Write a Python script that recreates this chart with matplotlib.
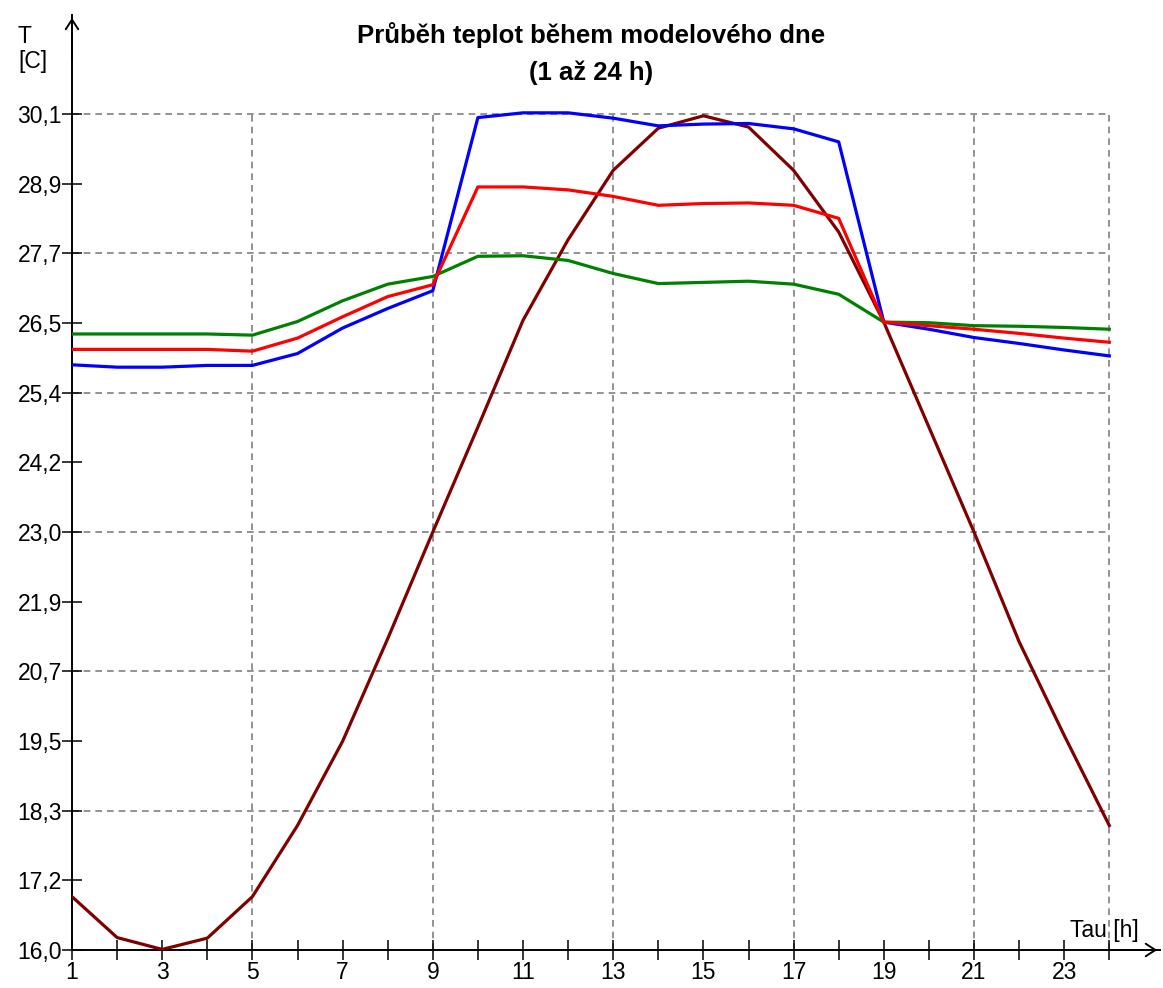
import matplotlib
matplotlib.use("Agg")
import matplotlib.pyplot as plt

# hodiny modeloveho dne
hours = list(range(1, 25))

# teploty [C]
t_blue = [25.87, 25.83, 25.83, 25.86, 25.86, 26.06, 26.49, 26.82, 27.12, 30.04,
          30.12, 30.12, 30.03, 29.90, 29.93, 29.94, 29.85, 29.63, 26.59, 26.47,
          26.33, 26.23, 26.12, 26.02]
t_red = [26.13, 26.13, 26.13, 26.13, 26.10, 26.32, 26.68, 27.02, 27.22, 28.87,
         28.87, 28.82, 28.71, 28.56, 28.59, 28.60, 28.56, 28.34, 26.59, 26.53,
         26.47, 26.40, 26.32, 26.25]
t_green = [26.39, 26.39, 26.39, 26.39, 26.37, 26.60, 26.95, 27.23, 27.36, 27.70,
           27.71, 27.63, 27.41, 27.24, 27.26, 27.28, 27.23, 27.06, 26.59, 26.58,
           26.53, 26.52, 26.50, 26.47]
t_out = [16.90, 16.21, 16.01, 16.20, 16.90, 18.10, 19.52, 21.25, 23.05, 24.82,
         26.62, 27.98, 29.15, 29.86, 30.07, 29.88, 29.15, 28.11, 26.59, 24.82,
         23.05, 21.20, 19.62, 18.10]

y_ticks = [16.0, 17.175, 18.35, 19.525, 20.7, 21.875, 23.05, 24.225, 25.4,
           26.575, 27.75, 28.925, 30.1]
y_tick_labels = ["16,0", "17,2", "18,3", "19,5", "20,7", "21,9", "23,0", "24,2",
                 "25,4", "26,5", "27,7", "28,9", "30,1"]
x_tick_labels = [str(h) if h % 2 == 1 and h < 24 else "" for h in hours]

FONT = "Liberation Sans"
W, H = 1163, 988

fig = plt.figure(figsize=(W / 100, H / 100), dpi=100)
# plocha grafu: osa x od px 72 do 1160, osa y od px 950 nahoru do 15
ax = fig.add_axes([72 / W, 1 - 950 / H, 1088 / W, 935 / H])
ax.set_xlim(1, 1 + 1088 / 45.1)
ax.set_ylim(16.0, 16.0 + 935 / 59.29)

# mrizka - carkovana, jen po 4 h a kazdy druhy tick
grid_kw = dict(color="#808080", lw=1.2, linestyle=(0, (4.0, 3.0)), zorder=1)
x_grid = hours[4::4] + [hours[-1]]
ax.vlines(x_grid, y_ticks[0], y_ticks[-1], **grid_kw)
ax.hlines(y_ticks[2::2], hours[0], hours[-1], **grid_kw)

lw = 2.3
ax.plot(hours, t_out, color="#800000", lw=lw, zorder=3)
ax.plot(hours, t_blue, color="#0000ff", lw=lw, zorder=3)
ax.plot(hours, t_green, color="#008000", lw=lw, zorder=3)
ax.plot(hours, t_red, color="#ff0000", lw=lw, zorder=3)

for s in ["top", "right"]:
    ax.spines[s].set_visible(False)
for s in ["left", "bottom"]:
    ax.spines[s].set_linewidth(1.4)
    ax.spines[s].set_color("black")

# sipky na koncich os
arr = dict(arrowstyle="->,head_length=0.7,head_width=0.45", color="black", lw=1.4)
ax.annotate("", xy=(1.0, 0), xytext=(0.95, 0), xycoords="axes fraction",
            arrowprops=arr, annotation_clip=False)
ax.annotate("", xy=(0, 1.0), xytext=(0, 0.95), xycoords="axes fraction",
            arrowprops=arr, annotation_clip=False)

ax.set_xticks(hours)
ax.set_xticklabels(x_tick_labels, fontfamily=FONT, fontsize=16.5)
ax.set_yticks(y_ticks)
ax.set_yticklabels(y_tick_labels, fontfamily=FONT, fontsize=16.5)
ax.tick_params(axis="both", direction="inout", length=14.5, width=1.1, colors="black")
ax.tick_params(axis="x", pad=1.0)
ax.tick_params(axis="y", pad=0.0)

fig.text(591 / W, 1 - 43 / H, "Průběh teplot během modelového dne", ha="center",
         va="baseline", fontfamily=FONT, fontweight="bold", fontsize=18.5)
fig.text(591 / W, 1 - 80 / H, "(1 až 24 h)", ha="center", va="baseline",
         fontfamily=FONT, fontweight="bold", fontsize=18.5)

fig.text(18 / W, 1 - 43 / H, "T", ha="left", va="baseline", fontfamily=FONT, fontsize=16.5)
fig.text(18 / W, 1 - 68 / H, "[C]", ha="left", va="baseline", fontfamily=FONT, fontsize=16.5)
fig.text(1070 / W, 1 - 937 / H, "Tau [h]", ha="left", va="baseline", fontfamily=FONT,
         fontsize=16.5)

fig.savefig("out.png", dpi=100, facecolor="white")
